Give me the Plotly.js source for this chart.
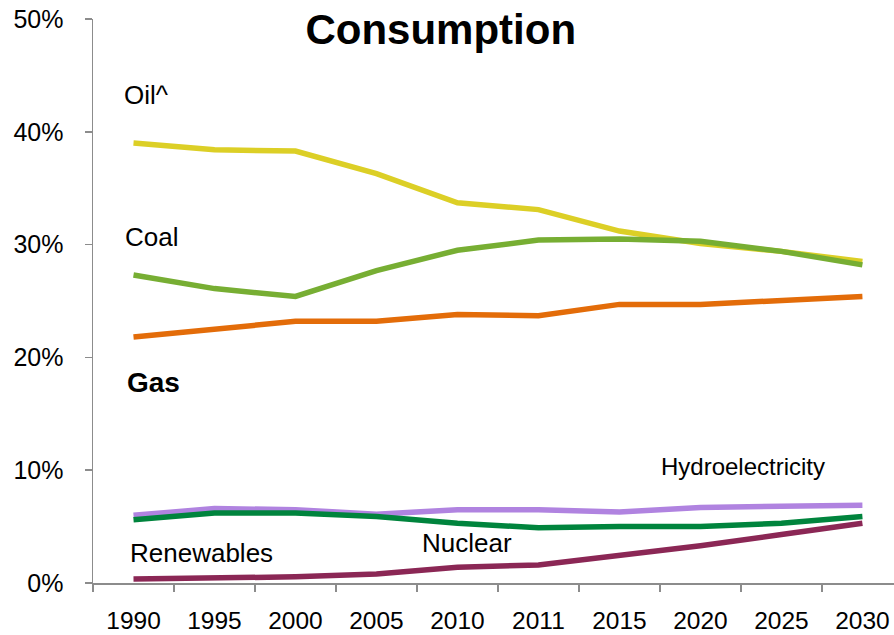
<!DOCTYPE html>
<html>
<head>
<meta charset="utf-8">
<script src="https://cdn.plot.ly/plotly-3.0.1.min.js"></script>
<style>html,body{margin:0;padding:0;background:#fff;}#chart{width:894px;height:635px;}</style>
</head>
<body>
<div id="chart"></div>
<script>
const years = ["1990","1995","2000","2005","2010","2011","2015","2020","2025","2030"];
const oil = [39.0, 38.4, 38.3, 36.3, 33.7, 33.1, 31.2, 30.1, 29.4, 28.5];
const coal = [27.3, 26.1, 25.4, 27.7, 29.5, 30.4, 30.5, 30.3, 29.4, 28.2];
const gas = [21.8, 22.5, 23.2, 23.2, 23.8, 23.7, 24.7, 24.7, 25.0, 25.4];
const hydro = [6.0, 6.6, 6.5, 6.1, 6.5, 6.5, 6.3, 6.7, 6.8, 6.9];
const nuclear = [5.6, 6.2, 6.2, 5.9, 5.3, 4.9, 5.0, 5.0, 5.3, 5.9];
const renewables = [0.35, 0.45, 0.55, 0.8, 1.4, 1.6, 2.4, 3.3, 4.3, 5.3];
const yTicks = [0, 10, 20, 30, 40, 50];

const mk = (y, color, name) => ({
  x: years, y: y, type: 'scatter', mode: 'lines', name: name,
  line: {color: color, width: 5.5}, hoverinfo: 'skip'
});

const data = [
  mk(oil, '#DCCF26', 'Oil^'),
  mk(coal, '#77AE33', 'Coal'),
  mk(gas, '#E36C09', 'Gas'),
  mk(hydro, '#B083E0', 'Hydroelectricity'),
  mk(nuclear, '#00843D', 'Nuclear'),
  mk(renewables, '#8B2755', 'Renewables')
];

const F = 'Liberation Sans, Arial, sans-serif';
const ann = (text, x, y, size, bold) => ({
  text: bold ? '<b>' + text + '</b>' : text, xref: 'paper', yref: 'paper',
  x: x, y: y, xanchor: 'left', yanchor: 'middle', showarrow: false,
  font: {family: F, size: size, color: '#000'}
});

const layout = {
  width: 894, height: 635,
  margin: {l: 93, r: 0, t: 19, b: 52},
  paper_bgcolor: '#fff', plot_bgcolor: '#fff',
  showlegend: false,
  font: {family: F, color: '#000'},
  title: {
    text: '<b>Consumption</b>', x: 0.493, xref: 'container', xanchor: 'center',
    y: 0.977, yref: 'container', yanchor: 'top',
    font: {family: F, size: 42, color: '#000'}
  },
  xaxis: {
    type: 'category', range: [-0.5, 9.39],
    showgrid: false, zeroline: false,
    showline: true, linecolor: '#8c8c8c', linewidth: 1.5,
    ticks: 'outside', tickson: 'boundaries', ticklen: 7, tickcolor: '#8c8c8c', tickwidth: 1.5,
    ticklabelstandoff: 15,
    tickfont: {family: F, size: 24.5, color: '#000'}
  },
  yaxis: {
    range: [0, 50], tickvals: yTicks, ticktext: yTicks.map(v => v + '%'),
    showgrid: false, zeroline: false,
    showline: true, linecolor: '#8c8c8c', linewidth: 1.5,
    ticks: 'outside', ticklen: 7, tickcolor: '#8c8c8c', tickwidth: 1.5,
    ticklabelstandoff: 16,
    tickfont: {family: F, size: 25, color: '#000'}
  },
  annotations: [
    ann('Oil^', 0.036, 0.865, 26, false),
    ann('Coal', 0.0375, 0.613, 26, false),
    ann('Gas', 0.040, 0.356, 28, true),
    ann('Hydroelectricity', 0.706, 0.207, 24, false),
    ann('Nuclear', 0.408, 0.071, 26, false),
    ann('Renewables', 0.0437, 0.053, 26, false)
  ]
};

Plotly.newPlot('chart', data, layout, {displayModeBar: false, staticPlot: true});
</script>
</body>
</html>
